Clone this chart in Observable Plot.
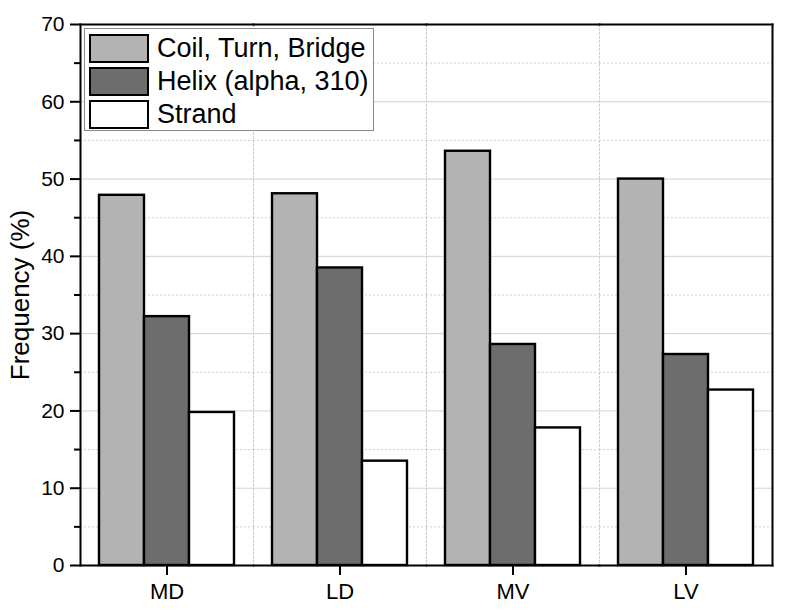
<!DOCTYPE html>
<html>
<head>
<meta charset="utf-8">
<script src="https://cdn.jsdelivr.net/npm/d3@7"></script>
<script src="https://cdn.jsdelivr.net/npm/@observablehq/plot@0.6"></script>
<style>
  html, body { margin: 0; padding: 0; background: #fff; }
  #wrap { position: relative; width: 800px; height: 612px; font-family: "Liberation Sans", Arial, sans-serif; }
  #legend { position: absolute; left: 84px; top: 28px; width: 290px; height: 103px; box-sizing: border-box;
            border: 1px solid #8a8a8a; background: #fff; padding: 3px 0 0 4px; }
  .item { display: flex; align-items: center; height: 33px; }
  .sw { width: 56px; height: 25px; border: 2px solid #000; margin-right: 8px; }
  .lab { font-size: 27px; color: #000; line-height: 1; }
</style>
</head>
<body>
<div id="wrap"><div id="legend"></div></div>
<script>
const categories = ["MD", "LD", "MV", "LV"];
const series = ["Coil, Turn, Bridge", "Helix (alpha, 310)", "Strand"];
const coil = [47.9, 48.1, 53.6, 50.0];
const helix = [32.2, 38.5, 28.6, 27.3];
const strand = [19.8, 13.5, 17.8, 22.7];
const colors = ["#b3b3b3", "#6d6d6d", "#ffffff"];
const yTicks = [0, 10, 20, 30, 40, 50, 60, 70];
const yMinor = [5, 15, 25, 35, 45, 55, 65];
const yLabel = "Frequency (%)";

const values = [coil, helix, strand];
const data = categories.flatMap((c, i) => series.map((s, j) => ({cat: c, s, v: values[j][i]})));

const chart = Plot.plot({
  width: 800,
  height: 612,
  marginLeft: 78,
  marginRight: 27,
  marginTop: 24,
  marginBottom: 47,
  style: {fontFamily: "'Liberation Sans', Arial, sans-serif", fontSize: "21px", color: "black", background: "white"},
  fx: {domain: categories, padding: 0, label: null},
  x: {domain: series, paddingInner: 0, paddingOuter: 0.39, axis: null},
  y: {domain: [0, 70], axis: null},
  color: {domain: series, range: colors},
  marks: [
    Plot.gridY(yMinor, {stroke: "#cfcfcf", strokeOpacity: 1, strokeDasharray: "2,2"}),
    Plot.gridY(yTicks, {stroke: "#d2d2d2", strokeOpacity: 1}),
    Plot.frame({anchor: "left", stroke: "#cfcfcf", strokeDasharray: "2,2"}),
    Plot.barY(data, {fx: "cat", x: "s", y: "v", fill: "s", stroke: "black", strokeWidth: 2.4, inset: 0}),
    Plot.frame({anchor: "top", stroke: "black", strokeWidth: 2}),
    Plot.frame({anchor: "bottom", stroke: "black", strokeWidth: 2}),
    Plot.frame({anchor: "left", stroke: "black", strokeWidth: 2, facetAnchor: "left"}),
    Plot.frame({anchor: "right", stroke: "black", strokeWidth: 2, facetAnchor: "right"}),
    Plot.axisY({ticks: yTicks, tickSize: 10, tickPadding: 6, fontSize: 21, label: null, strokeWidth: 2}),
    Plot.axisY({ticks: yMinor, tickSize: 6, tickFormat: () => "", label: null, strokeWidth: 2}),
    Plot.axisFx({anchor: "bottom", tickSize: 10, tickPadding: 8, fontSize: 22, label: null, strokeWidth: 2}),
    Plot.text([yLabel], {frameAnchor: "left", textAnchor: "middle", rotate: -90, dx: -60, fontSize: 26, fill: "black", facetAnchor: "left"})
  ]
});

const wrap = document.getElementById("wrap");
wrap.insertBefore(chart, wrap.firstChild);

const legend = d3.select("#legend");
series.forEach((s, i) => {
  const it = legend.append("div").attr("class", "item");
  it.append("div").attr("class", "sw").style("background", colors[i]);
  it.append("span").attr("class", "lab").text(s);
});
</script>
</body>
</html>
